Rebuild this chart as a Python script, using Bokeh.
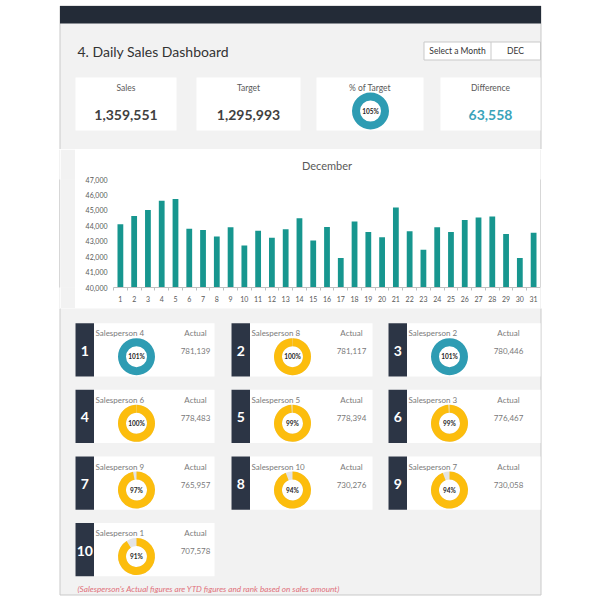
import math
from bokeh.plotting import figure
from bokeh.layouts import column, row
from bokeh.models import Range1d, FixedTicker, NumeralTickFormatter
from bokeh.embed import file_html
from bokeh.resources import INLINE
from bokeh.core.properties import value

# ---------------- data ----------------
days = list(range(1, 32))
daily_sales = [44100, 44640, 45030, 45620, 45730, 43810, 43730, 43310, 43900, 42720,
               43680, 43220, 43770, 44490, 43050, 43920, 41920, 44270, 43590, 43250,
               45190, 43640, 42440, 43900, 43590, 44380, 44530, 44600, 43460, 41920,
               43550]
y_ticks = [40000, 41000, 42000, 43000, 44000, 45000, 46000, 47000]
month_name = "December"
month_code = "DEC"
total_sales = 1359551
total_target = 1295993
kpi_labels = ["Sales", "Target", "% of Target", "Difference"]
sp_names = ["Salesperson 4", "Salesperson 8", "Salesperson 2", "Salesperson 6",
            "Salesperson 5", "Salesperson 3", "Salesperson 9", "Salesperson 10",
            "Salesperson 7", "Salesperson 1"]
sp_actual = [781139, 781117, 780446, 778483, 778394, 776467, 765957, 730276, 730058, 707578]
sp_pct = [1.01, 0.997, 1.01, 0.997, 0.99, 0.99, 0.97, 0.94, 0.94, 0.91]
footnote = "(Salesperson's Actual figures are YTD figures and rank based on sales amount)"

# ---------------- style ----------------
W = 596
H = 600
FONT = "Lato"
PANEL_BG = "#f2f2f2"
PANEL_LINE = "#c9c9c9"
DARK = "#232b37"
STRIP = "#2c3545"
BAR = "#17968f"
TEAL = "#2e9cb3"
TEAL_TXT = "#3aa3ba"
GOLD = "#fcbd0d"
REST = "#e4e4e4"
GREY_TXT = "#7a7a7a"
LABEL_TXT = "#595959"
VALUE_TXT = "#404040"


def Y(v):
    return H - v


def base_fig(x0, x1, y0, y1):
    p = figure(width=int(x1 - x0), height=int(y1 - y0),
               x_range=Range1d(x0, x1), y_range=Range1d(Y(y1), Y(y0)),
               x_axis_type=None, y_axis_type=None,
               output_backend="svg", toolbar_location=None, min_border=0)
    p.grid.visible = False
    p.outline_line_color = None
    p.background_fill_color = "white"
    p.border_fill_color = "white"
    p.quad(left=59.5, right=540.5, bottom=Y(594.5), top=Y(5.5),
           fill_color=PANEL_BG, line_color=PANEL_LINE, line_width=1)
    return p


def pad(w, h, color, mt, mb):
    p = figure(width=w, height=h, x_range=Range1d(0, 1), y_range=Range1d(0, 1),
               x_axis_type=None, y_axis_type=None, output_backend="svg",
               toolbar_location=None, min_border_left=0, min_border_right=0,
               min_border_top=mt, min_border_bottom=mb)
    p.grid.visible = False
    p.outline_line_color = None
    p.background_fill_color = color
    p.border_fill_color = color
    p.quad(left=[-1], right=[2], bottom=[-1], top=[2], fill_color=color, line_color=None)
    return p


def txt(p, x, y, t, size, color, align="left", style="normal"):
    p.text(x=x, y=[Y(v) for v in y], text=t, text_font=value(FONT),
           text_font_size=size, text_color=color, text_align=align,
           text_baseline="middle", text_font_style=style)


def donut(p, xs, ys, pcts, r_in, r_out):
    full_x, full_y, full_c = [], [], []
    wx, wy, ws = [], [], []
    for x, y, f in zip(xs, ys, pcts):
        full_x.append(x); full_y.append(Y(y))
        if f >= 1.0:
            full_c.append(TEAL)
        else:
            full_c.append(REST)
            wx.append(x); wy.append(Y(y)); ws.append(math.pi / 2 - f * 2 * math.pi)
    p.annulus(x=full_x, y=full_y, inner_radius=r_in, outer_radius=r_out,
              fill_color=full_c, line_color=None)
    if wx:
        p.annular_wedge(x=wx, y=wy, inner_radius=r_in, outer_radius=r_out,
                        start_angle=ws, end_angle=math.pi / 2, direction="anticlock",
                        fill_color=GOLD, line_color=None)
    p.text(x=xs, y=[Y(v) for v in ys], text=["%d%%" % round(f * 100) for f in pcts],
           text_font=value(FONT), text_font_size="6.5px", text_font_style="bold",
           text_color="#262626", text_align="center", text_baseline="middle")


# ---------------- top part (header, title, KPI cards) ----------------
TOP_Y1 = 149
top = base_fig(0, W, 0, TOP_Y1)
top.quad(left=59.5, right=540.5, top=Y(5.5), bottom=Y(23), fill_color=DARK, line_color=None)
txt(top, [77], [51], ["4. Daily Sales Dashboard"], "14px", "#333333")
top.quad(left=423.5, right=540, top=Y(41.5), bottom=Y(59.5), fill_color="white",
         line_color=PANEL_LINE)
top.segment(x0=[490.5], y0=[Y(41.5)], x1=[490.5], y1=[Y(59.5)], line_color=PANEL_LINE)
txt(top, [457], [50.5], ["Select a Month"], "8.5px", "#333333", "center")
txt(top, [515], [50.5], [month_code], "8.5px", "#333333", "center")

kpi_l = [75, 196, 316, 440]
kpi_r = [176, 300, 423, 540]
kpi_c = [(a + b) / 2 for a, b in zip(kpi_l, kpi_r)]
top.quad(left=kpi_l, right=kpi_r, top=Y(77), bottom=Y(130), fill_color="white", line_color=None)
txt(top, kpi_c, [87] * 4, kpi_labels, "8.5px", LABEL_TXT, "center")
txt(top, [kpi_c[0], kpi_c[1]], [114, 114],
    ["{:,}".format(total_sales), "{:,}".format(total_target)],
    "14px", VALUE_TXT, "center", "bold")
txt(top, [kpi_c[3]], [114], ["{:,}".format(total_sales - total_target)],
    "14px", TEAL_TXT, "center", "bold")
donut(top, [370], [110.5], [total_sales / total_target], 10.5, 18.5)
top.quad(left=75, right=540, top=Y(148.5), bottom=Y(TOP_Y1), fill_color="white", line_color=None)

# ---------------- chart row ----------------
CH_Y1 = 308
CH_H = CH_Y1 - TOP_Y1
MT, MB = 30, 21

chart = figure(width=465, height=CH_H, x_range=Range1d(0.5, 31.5),
               y_range=Range1d(40000, 47000), output_backend="svg", toolbar_location=None,
               min_border_left=38, min_border_right=0, min_border_top=MT,
               min_border_bottom=MB, title=month_name)
chart.grid.visible = False
chart.outline_line_color = None
chart.background_fill_color = "white"
chart.border_fill_color = "white"
chart.title.align = "center"
chart.title.offset = -18
chart.title.text_font = FONT
chart.title.text_font_size = "11px"
chart.title.text_font_style = "normal"
chart.title.text_color = LABEL_TXT
chart.title.standoff = 15
chart.vbar(x=days, top=daily_sales, bottom=40000, width=0.42, fill_color=BAR, line_color=None)

ya = chart.yaxis[0]
ya.ticker = FixedTicker(ticks=y_ticks)
ya.formatter = NumeralTickFormatter(format="0,0")
ya.axis_line_color = None
ya.major_tick_line_color = None
ya.minor_tick_line_color = None
ya.major_tick_out = 0
ya.major_label_standoff = 6
ya.major_label_text_font = FONT
ya.major_label_text_font_size = "7px"
ya.major_label_text_color = LABEL_TXT

xa = chart.xaxis[0]
xa.ticker = FixedTicker(ticks=days, minor_ticks=[d - 0.5 for d in days] + [31.5])
xa.axis_line_color = "#bfbfbf"
xa.major_tick_line_color = None
xa.major_tick_out = 0
xa.major_tick_in = 0
xa.minor_tick_line_color = "#bfbfbf"
xa.minor_tick_out = 3
xa.minor_tick_in = 0
xa.major_label_standoff = 5
xa.major_label_text_font = FONT
xa.major_label_text_font_size = "7px"
xa.major_label_text_color = LABEL_TXT

pads_left = [pad(59, CH_H, "white", MT, MB), pad(1, CH_H, PANEL_LINE, MT, MB),
             pad(15, CH_H, PANEL_BG, MT, MB)]
pads_right = [pad(1, CH_H, PANEL_LINE, MT, MB), pad(W - 541, CH_H, "white", MT, MB)]

# ---------------- salesperson cards ----------------
BOT_Y1 = 596
bot = base_fig(0, W, CH_Y1, BOT_Y1)
col_x = [75, 231, 388]
col_r = [214, 372, 540]
row_y = [322.7, 389.3, 456, 522.5]
CARD_H = 53.3
cx0, cx1, cy0 = [], [], []
for i in range(len(sp_names)):
    r, c = divmod(i, 3)
    cx0.append(col_x[c]); cx1.append(col_r[c]); cy0.append(row_y[r])
bot.quad(left=cx0, right=cx1, top=[Y(v) for v in cy0], bottom=[Y(v + CARD_H) for v in cy0],
         fill_color="white", line_color=None)
bot.quad(left=cx0, right=[v + 18.5 for v in cx0], top=[Y(v) for v in cy0],
         bottom=[Y(v + CARD_H) for v in cy0], fill_color=STRIP, line_color=None)
txt(bot, [v + 9.25 for v in cx0], [v + 27.5 for v in cy0],
    [str(i + 1) for i in range(len(sp_names))], "14px", "white", "center", "bold")
txt(bot, [v + 20 for v in cx0], [v + 10 for v in cy0], sp_names, "8px", GREY_TXT)
txt(bot, [v + 120 for v in cx0], [v + 10 for v in cy0], ["Actual"] * len(sp_names),
    "8px", GREY_TXT, "center")
txt(bot, [v + 120 for v in cx0], [v + 28 for v in cy0], ["{:,}".format(a) for a in sp_actual],
    "8px", GREY_TXT, "center")
donut(bot, [v + 61 for v in cx0], [v + 33.5 for v in cy0], sp_pct, 10.5, 18.5)
txt(bot, [77], [588.5], [footnote], "8.2px", "#e0707a", "left", "italic")

layout = column(top, row(*pads_left, chart, *pads_right, spacing=0), bot, spacing=0)
open("out.html", "w").write(file_html(layout, INLINE))
